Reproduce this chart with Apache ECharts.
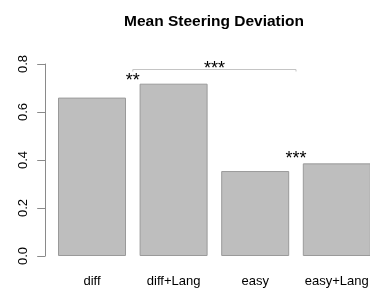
<!DOCTYPE html>
<html>
<head>
<meta charset="utf-8">
<script src="https://cdn.jsdelivr.net/npm/echarts@6/dist/echarts.min.js"></script>
<style>
  html, body { margin: 0; padding: 0; background: #fff; overflow: hidden; }
  /* plot region runs a few px past the right edge, like the original */
  #chart { width: 378px; height: 288px; }
</style>
</head>
<body>
<div id="chart"></div>
<script>
// data
const categories = ['diff', 'diff+Lang', 'easy', 'easy+Lang']
const meanDev = [0.66, 0.718, 0.354, 0.386]
const yTicks = [0, 0.2, 0.4, 0.6, 0.8]

// significance marks: position in category units (0.5 = between bar 1 and 2)
const starLabels = ['**', '***', '***']
const starPos = [0.5, 1.5, 2.5]
const starVals = [0.747, 0.796, 0.421]
// bracket from category pos to pos at a given height
const bracketFrom = [0.5]
const bracketTo = [2.5]
const bracketVal = [0.779]

let chart = echarts.init(document.getElementById('chart'))

// pixel x of a fractional category position
function catX(api, pos) {
    let i = Math.floor(pos)
    let band = api.size([1, 0])[0]
    return api.coord([i, 0])[0] + (pos - i) * band
}

let options = {
    animation: false,
    title: {
        text: 'Mean Steering Deviation',
        left: 209,
        top: 9,
        textAlign: 'center',
        textStyle: {
            fontFamily: 'Liberation Sans',
            fontWeight: 'bold',
            fontSize: 15.5,
            color: '#000'
        }
    },
    grid: {
        left: 51.2,
        right: 0.4,
        top: 64,
        bottom: 32,
        containLabel: false
    },
    xAxis: {
        type: 'category',
        data: categories,
        axisLine: { show: false },
        axisTick: { show: false },
        axisLabel: {
            interval: 0,
            margin: 19,
            fontFamily: 'Liberation Sans',
            fontSize: 13,
            color: '#000'
        }
    },
    yAxis: {
        type: 'value',
        min: 0,
        max: 0.8,
        interval: 0.2,
        offset: 6,
        splitLine: { show: false },
        axisLine: { show: true, lineStyle: { color: '#8a8a8a', width: 1 } },
        axisTick: { show: true, length: 8, lineStyle: { color: '#8a8a8a' } },
        axisLabel: {
            rotate: 90,
            margin: 15,
            fontFamily: 'Liberation Sans',
            fontSize: 13,
            color: '#000',
            formatter: v => v.toFixed(1),
            customValues: yTicks
        }
    },
    series: [
        {
            type: 'bar',
            data: meanDev,
            barWidth: 68,
            itemStyle: {
                color: '#bebebe',
                borderColor: '#9a9a9a',
                borderWidth: 1
            }
        },
        {
            type: 'custom',
            clip: false,
            silent: true,
            data: starLabels.map((s, i) => [starPos[i], starVals[i], s]),
            renderItem: (params, api) => {
                let i = params.dataIndex
                let x = catX(api, starPos[i])
                let y = api.coord([0, starVals[i]])[1]
                return {
                    type: 'text',
                    style: {
                        text: starLabels[i],
                        x: x,
                        y: y + 4,
                        align: 'center',
                        verticalAlign: 'middle',
                        font: '18px "Liberation Sans"',
                        fill: '#000'
                    }
                }
            }
        },
        {
            type: 'custom',
            clip: false,
            silent: true,
            data: bracketFrom.map((f, i) => [f, bracketTo[i], bracketVal[i]]),
            renderItem: (params, api) => {
                let i = params.dataIndex
                let x1 = catX(api, bracketFrom[i])
                let x2 = catX(api, bracketTo[i])
                let y = Math.round(api.coord([0, bracketVal[i]])[1]) + 0.5
                return {
                    type: 'polyline',
                    shape: { points: [[x1, y + 2], [x1, y], [x2, y], [x2, y + 2]] },
                    style: { stroke: '#c4c4c4', lineWidth: 1, fill: null }
                }
            }
        }
    ]
}
chart.setOption(options)
</script>
</body>
</html>
